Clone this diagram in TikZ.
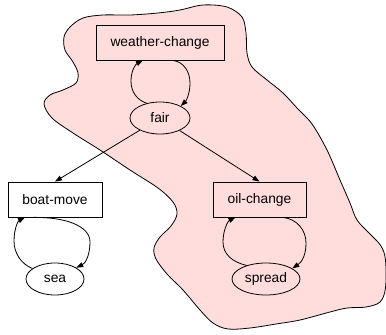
\documentclass[tikz,border=0pt]{standalone}
\usepackage{fontspec}
\setmainfont{Liberation Sans}
\usetikzlibrary{shapes.geometric,arrows.meta}
\definecolor{blobpink}{RGB}{255,221,221}
\tikzset{
  boxnode/.style={draw, line width=0.8pt, rectangle, inner sep=0pt, font=\fontsize{13.8}{16}\selectfont},
  ellnode/.style={draw, line width=0.8pt, ellipse, inner sep=0pt, font=\fontsize{13.8}{16}\selectfont},
  conn/.style={line width=0.8pt, -{Triangle[length=7pt,width=5pt]}},
}
\begin{document}
\begin{tikzpicture}[x=1pt,y=-1pt]
\useasboundingbox (0,0) rectangle (386,335);
% blob
\draw[fill=blobpink, line width=0.8pt] plot[smooth cycle, tension=0.55] coordinates {
(83,18) (103,15) (130,15) (158,13) (180,10) (203,5) (227,7) (242,17) (246,33) (247,53) (252,67) (267,80) (283,93) (297,108) (312,124) (327,150) (340,180) (350,203) (357,220) (370,234) (381,246) (385.5,260) (385.5,288) (380,302) (366,307) (347,308) (330,312) (300,320) (276,324) (250,328) (228,329) (213,323) (200,310) (183,290) (167,274) (156,259) (154,248) (160,237) (171,226) (177,214) (173,202) (158,188) (130,170) (100,150) (73,133) (52,118) (44,104) (50,95) (63,90) (76,83) (78,73) (73,62) (65,50) (64,37) (70,27)
};
% nodes
\node[boxnode, minimum width=128pt, minimum height=35pt] (wc) at (160,42.5) {weather-change};
\node[ellnode, minimum width=60pt, minimum height=32pt] (fair) at (160,118) {fair};
\node[boxnode, minimum width=94pt, minimum height=35pt] (bm) at (55,199.5) {boat-move};
\node[ellnode, minimum width=58pt, minimum height=32pt] (sea) at (55,279) {sea};
\node[boxnode, minimum width=93pt, minimum height=35pt] (oc) at (259.5,199.5) {oil-change};
\node[ellnode, minimum width=68pt, minimum height=32pt] (spread) at (266,279) {spread};
% loops
\draw[conn] (fair.132) .. controls (137,100) and (131,92) .. (131,81) .. controls (131,70) and (136,64) .. ([xshift=-17pt]wc.south);
\draw[conn] ([xshift=13pt]wc.south) .. controls (184,62) and (190,72) .. (190,83) .. controls (190,94) and (186,101) .. (fair.30);
\draw[conn] (sea.155) .. controls (21,264) and (14,253) .. (14,241) .. controls (14,229) and (18,221) .. ([xshift=-30pt]bm.south);
\draw[conn] ([xshift=-22pt]bm.south) .. controls (66,217) and (90,226) .. (90,242) .. controls (90,254) and (86,263) .. (sea.28);
\draw[conn] (spread.145) .. controls (232,262) and (223,254) .. (223,242) .. controls (223,230) and (228,221) .. ([xshift=-24pt]oc.south);
\draw[conn] ([xshift=23.5pt]oc.south) .. controls (297,219) and (306,230) .. (306,243) .. controls (306,255) and (302,262) .. (spread.22);
% edges
\draw[conn] (fair) -- (bm.north);
\draw[conn] (fair) -- (oc.north);
\end{tikzpicture}
\end{document}
